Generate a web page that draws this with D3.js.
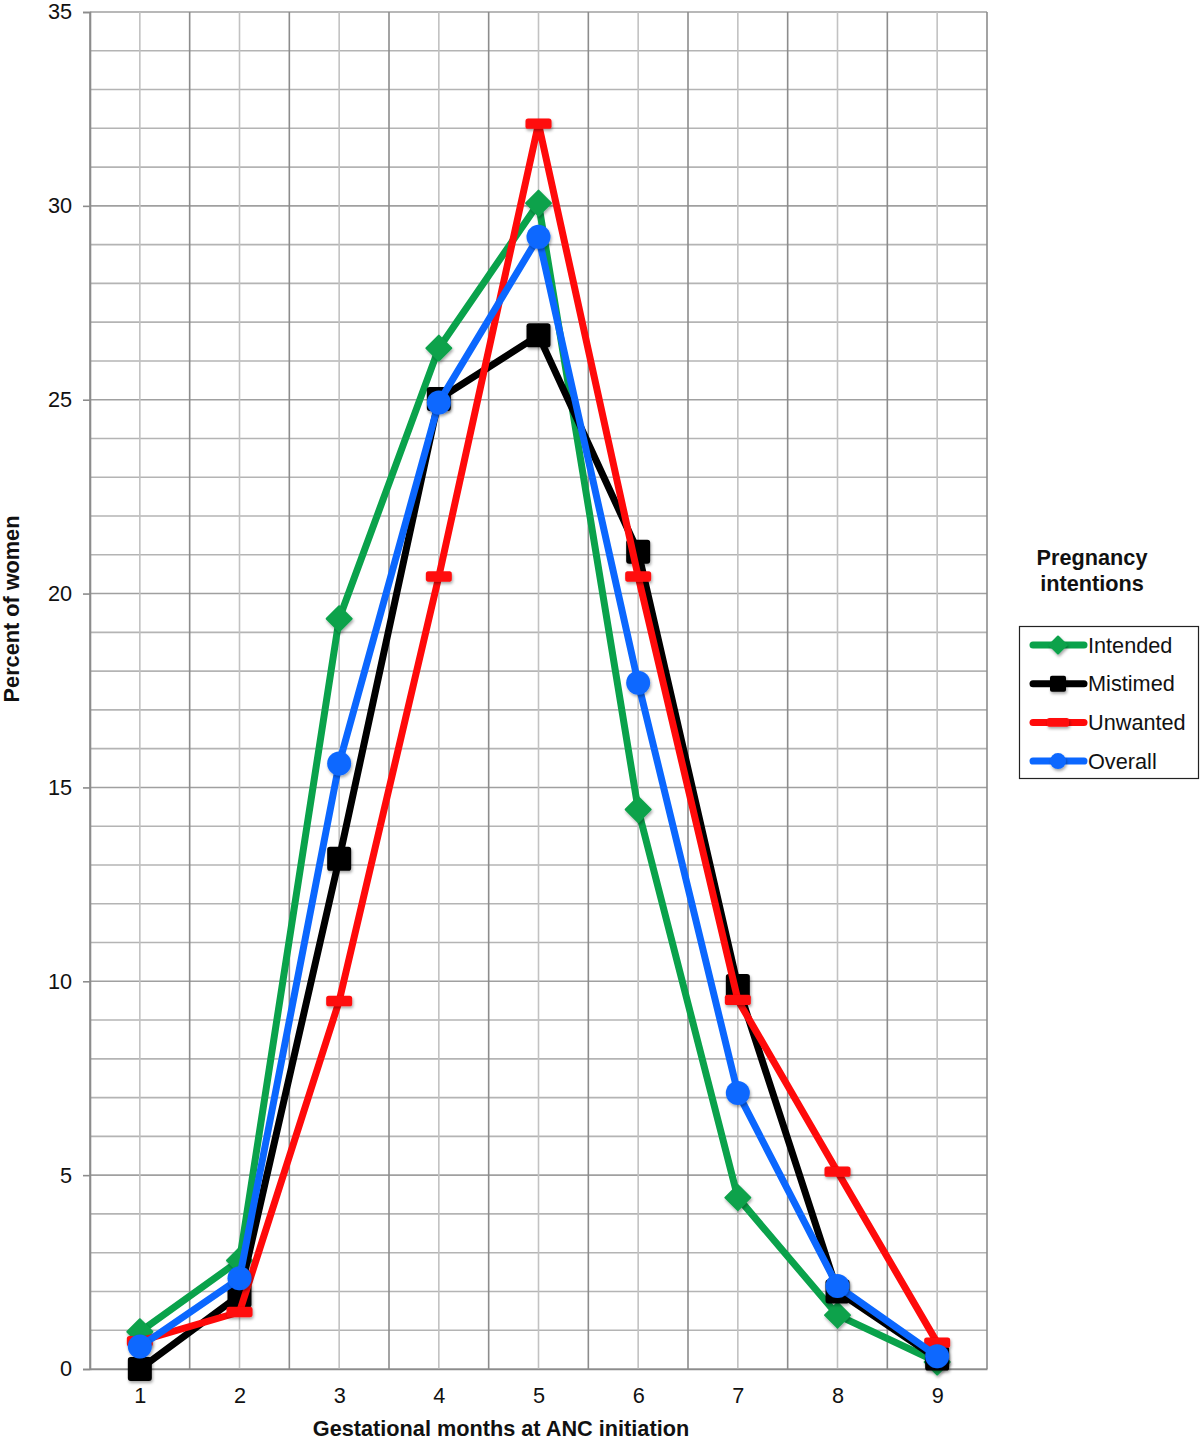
<!DOCTYPE html>
<html><head><meta charset="utf-8">
<script src="https://cdn.jsdelivr.net/npm/d3@7"></script>
<style>
html,body{margin:0;padding:0;background:#fff;}
svg{display:block;font-family:"Liberation Sans",Arial,Helvetica,sans-serif;}
</style></head>
<body>
<svg id="chart" width="1200" height="1442"></svg>
<script>
const months = [1,2,3,4,5,6,7,8,9];
const intended = [0.96,2.8,19.35,26.33,30.07,14.43,4.42,1.39,0.18];
const mistimed = [0.0,1.9,13.16,25.02,26.66,21.08,9.88,2.0,0.27];
const unwanted = [0.72,1.47,9.49,20.44,32.12,20.44,9.52,5.09,0.68];
const overall  = [0.58,2.34,15.62,24.93,29.2,17.7,7.12,2.14,0.33];
const yTicks = [0,5,10,15,20,25,30,35];
const seriesNames = ["Intended","Mistimed","Unwanted","Overall"];
const seriesColors = ["#0aa24b","#000000","#ff0a0a","#0b67ff"];
const seriesShapes = ["diamond","square","dash","circle"];
const legendTitle = ["Pregnancy","intentions"];
const xTitle = "Gestational months at ANC initiation";
const yTitle = "Percent of women";

const FS = 21.7;
const series = [intended, mistimed, unwanted, overall].map((vals,i)=>({
  name: seriesNames[i], color: seriesColors[i], shape: seriesShapes[i],
  values: vals.map((v,j)=>({x: months[j], y: v}))
}));

const svg = d3.select("#chart");
const L=90, R=987, T=12, B=1369;
const x = d3.scaleLinear().domain([0.5,9.5]).range([L,R]);
const y = d3.scaleLinear().domain([0,35]).range([B,T]);

const defs = svg.append("defs");
const f = defs.append("filter").attr("id","shadow").attr("x","-50%").attr("y","-50%").attr("width","200%").attr("height","200%");
f.append("feDropShadow").attr("dx",1).attr("dy",2).attr("stdDeviation",1.6).attr("flood-color","#000").attr("flood-opacity",0.35);

const grid = svg.append("g");
grid.selectAll("line.h").data(d3.range(0,36)).join("line")
  .attr("x1",L).attr("x2",R).attr("y1",d=>y(d)).attr("y2",d=>y(d))
  .attr("stroke",d=>d%5===0?"#a0a0a0":"#b4b4b4").attr("stroke-width",1.6);
grid.selectAll("line.vc").data(months).join("line")
  .attr("x1",d=>x(d)).attr("x2",d=>x(d)).attr("y1",T).attr("y2",B)
  .attr("stroke","#c2c2c2").attr("stroke-width",1.6);
grid.selectAll("line.vb").data(d3.range(0.5,10,1)).join("line")
  .attr("x1",d=>x(d)).attr("x2",d=>x(d)).attr("y1",T).attr("y2",B)
  .attr("stroke","#8c8c8c").attr("stroke-width",1.6);

const yAxis = d3.axisLeft(y).tickValues(yTicks).tickSize(7).tickPadding(11);
const ga = svg.append("g").attr("transform",`translate(${L},0)`).call(yAxis);
ga.select(".domain").attr("stroke","#8c8c8c").attr("stroke-width",1.6);
ga.selectAll(".tick line").attr("stroke","#8c8c8c").attr("stroke-width",1.6);
ga.selectAll(".tick text").attr("font-size",FS).attr("fill","#111").attr("font-family","Liberation Sans, Arial, sans-serif");

const xAxis = d3.axisBottom(x).tickValues(months).tickSize(0).tickPadding(19);
const gx = svg.append("g").attr("transform",`translate(0,${B})`).call(xAxis);
gx.select(".domain").attr("stroke","#8c8c8c").attr("stroke-width",1.6);
gx.selectAll(".tick text").attr("font-size",FS).attr("fill","#111").attr("font-family","Liberation Sans, Arial, sans-serif");

svg.append("text").attr("x",501).attr("y",1436).attr("text-anchor","middle")
  .attr("font-size",FS).attr("font-weight","bold").attr("fill","#111").text(xTitle);
svg.append("text").attr("transform","translate(19,609) rotate(-90)").attr("text-anchor","middle")
  .attr("font-size",FS).attr("font-weight","bold").attr("fill","#111").text(yTitle);

function drawMarker(g, shape, color, cx, cy, s){
  if(shape==="square"){
    g.append("rect").attr("x",cx-s/2).attr("y",cy-s/2).attr("width",s).attr("height",s)
      .attr("rx",s*0.12).attr("fill",color).attr("filter","url(#shadow)");
  } else if(shape==="circle"){
    g.append("circle").attr("cx",cx).attr("cy",cy).attr("r",s/2).attr("fill",color).attr("filter","url(#shadow)");
  } else if(shape==="diamond"){
    const h=s/2;
    g.append("path").attr("d",`M${cx},${cy-h}L${cx+h},${cy}L${cx},${cy+h}L${cx-h},${cy}Z`)
      .attr("fill",color).attr("stroke",color).attr("stroke-width",2).attr("stroke-linejoin","round").attr("filter","url(#shadow)");
  } else if(shape==="dash"){
    g.append("rect").attr("x",cx-s/2).attr("y",cy-s*0.2).attr("width",s).attr("height",s*0.4)
      .attr("rx",s*0.1).attr("fill",color).attr("filter","url(#shadow)");
  }
}

const line = d3.line().x(d=>x(d.x)).y(d=>y(d.y));
series.forEach(s=>{
  const g = svg.append("g");
  g.append("path").attr("d",line(s.values)).attr("fill","none").attr("stroke",s.color)
    .attr("stroke-width",7).attr("stroke-linejoin","round").attr("stroke-linecap","round");
  s.values.forEach(d=>{
    const sz = s.shape==="dash"?26:(s.shape==="diamond"?25:24);
    drawMarker(g, s.shape, s.color, x(d.x), y(d.y), sz);
  });
});

const lg = svg.append("g");
legendTitle.forEach((t,i)=>{
  lg.append("text").attr("x",1092).attr("y",565+i*26).attr("text-anchor","middle")
    .attr("font-size",FS).attr("font-weight","bold").attr("fill","#111").text(t);
});
lg.append("rect").attr("x",1019.5).attr("y",626.5).attr("width",179).attr("height",152)
  .attr("fill","#fff").attr("stroke","#222").attr("stroke-width",1.2);
series.forEach((s,i)=>{
  const cy = 645 + i*38.7;
  lg.append("line").attr("x1",1033).attr("x2",1084).attr("y1",cy).attr("y2",cy)
    .attr("stroke",s.color).attr("stroke-width",7).attr("stroke-linecap","round");
  const sz = s.shape==="dash"?22:(s.shape==="diamond"?17:16);
  drawMarker(lg, s.shape, s.color, 1058, cy, sz);
  lg.append("text").attr("x",1088).attr("y",cy+7.5).attr("font-size",FS).attr("fill","#111").text(s.name);
});
</script>
</body></html>
